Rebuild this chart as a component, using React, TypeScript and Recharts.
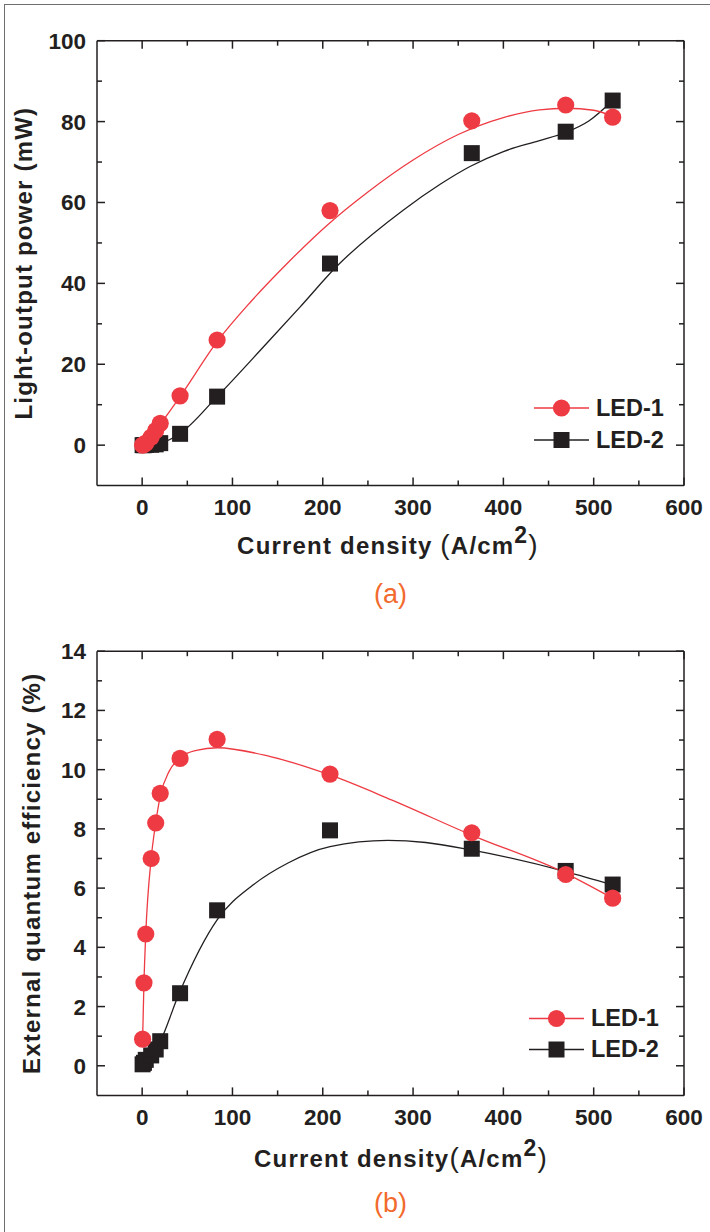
import React from 'react';
import { ComposedChart, Line, Scatter, XAxis, YAxis, Legend, Label } from 'recharts';

// current density (A/cm2) of the measured points
const currentDensity = [0.5, 2, 4, 10, 15, 20, 42, 83, 208, 365, 469, 521];

// (a) light-output power (mW)
const powerLed1 = [0, 0.2, 0.5, 2.0, 3.6, 5.4, 12.2, 26.0, 58.0, 80.2, 84.1, 81.1];
const powerLed2 = [0, 0, 0.05, 0.1, 0.2, 0.5, 2.8, 12.0, 44.9, 72.2, 77.5, 85.2];

// (b) external quantum efficiency (%)
const eqeLed1 = [0.9, 2.8, 4.45, 7.0, 8.2, 9.2, 10.38, 11.02, 9.85, 7.87, 6.46, 5.66];
const eqeLed2 = [0.05, 0.1, 0.2, 0.35, 0.55, 0.83, 2.45, 5.25, 7.95, 7.33, 6.58, 6.12];

// fitted curves
const fitPowerLed1X = [0, 10, 20, 42, 83, 120, 160, 208, 250, 300, 350, 400, 440, 470, 500, 521];
const fitPowerLed1Y = [0, 2.4, 5.2, 12.0, 25.6, 35.4, 44.8, 55.0, 62.6, 70.5, 76.8, 81.0, 82.9, 83.3, 82.8, 81.3];
const fitPowerLed2X = [0, 20, 42, 83, 138, 175, 215, 289, 330, 363, 400, 440, 469, 495, 521];
const fitPowerLed2Y = [0, 0.5, 2.9, 12.0, 25.2, 34.2, 44.1, 58.1, 64.5, 68.9, 72.6, 75.3, 77.3, 80.2, 85.2];
const fitEqeLed1X = [0.5, 2, 4, 10, 15, 20, 30, 42, 60, 83, 142, 208, 276, 364, 469, 521];
const fitEqeLed1Y = [0.9, 2.8, 4.45, 7.0, 8.2, 9.1, 9.95, 10.4, 10.65, 10.74, 10.44, 9.82, 8.98, 7.8, 6.5, 5.66];
const fitEqeLed2X = [10, 20, 41, 83, 123, 161, 208, 272, 314, 364, 469, 521];
const fitEqeLed2Y = [0.3, 0.82, 2.45, 4.93, 6.11, 6.84, 7.4, 7.61, 7.54, 7.29, 6.56, 6.11];

const xTicks = [0, 50, 100, 150, 200, 250, 300, 350, 400, 450, 500, 550, 600];
const powerTicks = [0, 10, 20, 30, 40, 50, 60, 70, 80, 90, 100];
const eqeTicks = [0, 1, 2, 3, 4, 5, 6, 7, 8, 9, 10, 11, 12, 13, 14];

const legendNames = ['LED-1', 'LED-2'];

const RED = '#ee3b43';
const INK = '#231f20';
const FONT = '"Liberation Sans", Arial, sans-serif';

const toPoints = (xs: number[], ys: number[]) => xs.map((x, i) => ({ x, y: ys[i] }));

const tickFont = { fontFamily: FONT, fontWeight: 700, fontSize: 22.5, fill: INK };

const makeXTick = (side: 'bottom' | 'top', labelGap: number) => (props: any) => {
  const { x, y, payload } = props;
  const major = payload.value % 100 === 0;
  const len = major ? 8 : 5;
  const dir = side === 'bottom' ? -1 : 1;
  return (
    <g>
      <line x1={x} x2={x} y1={y} y2={y + dir * len} stroke={INK} strokeWidth={1.5} />
      {side === 'bottom' && major && (
        <text x={x} y={y + labelGap} textAnchor="middle" style={tickFont}>
          {payload.value}
        </text>
      )}
    </g>
  );
};

const makeYTick = (side: 'left' | 'right', majorStep: number) => (props: any) => {
  const { x, y, payload } = props;
  const major = payload.value % majorStep === 0;
  const len = major ? 8 : 5;
  const dir = side === 'left' ? 1 : -1;
  return (
    <g>
      <line x1={x} x2={x + dir * len} y1={y} y2={y} stroke={INK} strokeWidth={1.5} />
      {side === 'left' && major && (
        <text x={x - 11} y={y + 8} textAnchor="end" style={tickFont}>
          {payload.value}
        </text>
      )}
    </g>
  );
};

const circleShape = (props: any) => <circle cx={props.cx} cy={props.cy} r={8.6} fill={RED} />;
const squareShape = (props: any) => (
  <rect x={props.cx - 8} y={props.cy - 8} width={16} height={16} fill={INK} />
);

const legendContent = (rowH: number) => () => (
  <div>
    {legendNames.map((name, i) => (
      <div key={name} style={{ display: 'flex', alignItems: 'center', height: rowH }}>
        <svg width={55} height={rowH}>
          <line x1={0} x2={55} y1={rowH / 2} y2={rowH / 2} stroke={i === 0 ? RED : INK} strokeWidth={1.5} />
          {i === 0 ? (
            <circle cx={27.5} cy={rowH / 2} r={8.6} fill={RED} />
          ) : (
            <rect x={19.5} y={rowH / 2 - 8} width={16} height={16} fill={INK} />
          )}
        </svg>
        <span style={{ marginLeft: 7, fontFamily: FONT, fontWeight: 700, fontSize: 23.5, color: INK }}>
          {name}
        </span>
      </div>
    ))}
  </div>
);

interface PanelProps {
  top: number;
  margin: { top: number; right: number; bottom: number; left: number };
  yDomain: [number, number];
  yTicks: number[];
  yMajor: number;
  yTitle: string;
  yTitleX: number;
  xTitleX: number;
  xTitleGap: string;
  xTitleY: number;
  xTickGap: number;
  caption: string;
  captionY: number;
  legend: { left: number; top: number; rowH: number };
  led1: { x: number; y: number }[];
  led2: { x: number; y: number }[];
  fit1: { x: number; y: number }[];
  fit2: { x: number; y: number }[];
}

const Panel = (p: PanelProps) => (
  <div style={{ position: 'absolute', left: 0, top: p.top }}>
    <ComposedChart width={710} height={616} margin={p.margin}>
      <XAxis
        dataKey="x"
        type="number"
        domain={[-50, 600]}
        allowDataOverflow
        ticks={xTicks}
        interval={0}
        height={40}
        tickSize={0}
        tickMargin={0}
        tickLine={false}
        axisLine={{ stroke: INK, strokeWidth: 1.5 }}
        tick={makeXTick('bottom', p.xTickGap)}
      >
        <Label
          content={(lp: any) => {
            const vb = lp.viewBox;
            return (
              <g style={{ fontFamily: FONT }}>
                <text
                  x={p.xTitleX}
                  y={vb.y + p.xTitleY}
                  textAnchor="middle"
                  fill={INK}
                  fontSize={24}
                  fontWeight={700}
                  letterSpacing={1.2}
                >
                  {'Current density' + p.xTitleGap}
                  <tspan fontWeight={400} fontSize={28}>(</tspan>
                  <tspan>A/cm</tspan>
                  <tspan fontSize={23} dy={-11}>2</tspan>
                  <tspan fontWeight={400} fontSize={28} dy={11}>)</tspan>
                </text>
                <text
                  x={vb.x + vb.width / 2}
                  y={vb.y + p.captionY}
                  textAnchor="middle"
                  fill="#f26a2e"
                  fontSize={27}
                >
                  {p.caption}
                </text>
              </g>
            );
          }}
        />
      </XAxis>
      <XAxis
        xAxisId="top"
        orientation="top"
        dataKey="x"
        type="number"
        domain={[-50, 600]}
        allowDataOverflow
        ticks={xTicks}
        interval={0}
        height={10}
        tickSize={0}
        tickMargin={0}
        tickLine={false}
        axisLine={{ stroke: INK, strokeWidth: 1.5 }}
        tick={makeXTick('top', 0)}
      />
      <YAxis
        dataKey="y"
        type="number"
        domain={p.yDomain}
        allowDataOverflow
        ticks={p.yTicks}
        interval={0}
        width={97}
        tickSize={0}
        tickMargin={0}
        tickLine={false}
        axisLine={{ stroke: INK, strokeWidth: 1.5 }}
        tick={makeYTick('left', p.yMajor)}
      >
        <Label
          content={(lp: any) => {
            const vb = lp.viewBox;
            const cx = vb.x + p.yTitleX;
            const cy = vb.y + vb.height / 2;
            return (
              <text
                x={cx}
                y={cy}
                transform={`rotate(-90, ${cx}, ${cy})`}
                textAnchor="middle"
                fill={INK}
                fontFamily={FONT}
                fontSize={24}
                fontWeight={700}
                letterSpacing={1.2}
              >
                {p.yTitle}
              </text>
            );
          }}
        />
      </YAxis>
      <YAxis
        yAxisId="r"
        orientation="right"
        type="number"
        domain={p.yDomain}
        allowDataOverflow
        ticks={p.yTicks}
        interval={0}
        width={26}
        tickSize={0}
        tickMargin={0}
        tickLine={false}
        axisLine={{ stroke: INK, strokeWidth: 1.5 }}
        tick={makeYTick('right', p.yMajor)}
      />
      <Legend
        layout="vertical"
        align="center"
        verticalAlign="middle"
        wrapperStyle={{ left: p.legend.left, top: p.legend.top, width: 150 }}
        content={legendContent(p.legend.rowH)}
      />
      <Line
        data={p.fit2}
        dataKey="y"
        type="monotone"
        stroke={INK}
        strokeWidth={1.3}
        dot={false}
        activeDot={false}
        legendType="none"
        isAnimationActive={false}
      />
      <Line
        data={p.fit1}
        dataKey="y"
        type="monotone"
        stroke={RED}
        strokeWidth={1.3}
        dot={false}
        activeDot={false}
        legendType="none"
        isAnimationActive={false}
      />
      <Scatter data={p.led2} dataKey="y" name="LED-2" shape={squareShape} isAnimationActive={false} />
      <Scatter data={p.led1} dataKey="y" name="LED-1" shape={circleShape} isAnimationActive={false} />
    </ComposedChart>
  </div>
);

export default function App() {
  return (
    <div
      style={{
        position: 'absolute',
        left: 0,
        top: 0,
        width: 710,
        height: 1232,
        background: '#fff',
        overflow: 'hidden',
      }}
    >
      <div
        style={{
          position: 'absolute',
          left: 4,
          top: 4,
          right: -10,
          bottom: -10,
          borderLeft: '1.5px solid #6f6f6f',
          borderTop: '1.5px solid #6f6f6f',
        }}
      />
      <Panel
        top={0}
        margin={{ top: 30.7, right: 0, bottom: 90.4, left: 0 }}
        yDomain={[-10, 100]}
        yTicks={powerTicks}
        yMajor={20}
        yTitle="Light-output power (mW)"
        yTitleX={32}
        xTitleX={388}
        xTitleGap=" "
        xTitleY={68.5}
        xTickGap={29.5}
        caption="(a)"
        captionY={117.4}
        legend={{ left: 534, top: 392, rowH: 32 }}
        led1={toPoints(currentDensity, powerLed1)}
        led2={toPoints(currentDensity, powerLed2)}
        fit1={toPoints(fitPowerLed1X, fitPowerLed1Y)}
        fit2={toPoints(fitPowerLed2X, fitPowerLed2Y)}
      />
      <Panel
        top={616}
        margin={{ top: 25.2, right: 0, bottom: 96.6, left: 0 }}
        yDomain={[-1, 14]}
        yTicks={eqeTicks}
        yMajor={2}
        yTitle="External quantum efficiency (%)"
        yTitleX={40}
        xTitleX={401}
        xTitleGap=""
        xTitleY={71.6}
        xTickGap={30}
        caption="(b)"
        captionY={116.6}
        legend={{ left: 529, top: 386.5, rowH: 31 }}
        led1={toPoints(currentDensity, eqeLed1)}
        led2={toPoints(currentDensity, eqeLed2)}
        fit1={toPoints(fitEqeLed1X, fitEqeLed1Y)}
        fit2={toPoints(fitEqeLed2X, fitEqeLed2Y)}
      />
    </div>
  );
}
